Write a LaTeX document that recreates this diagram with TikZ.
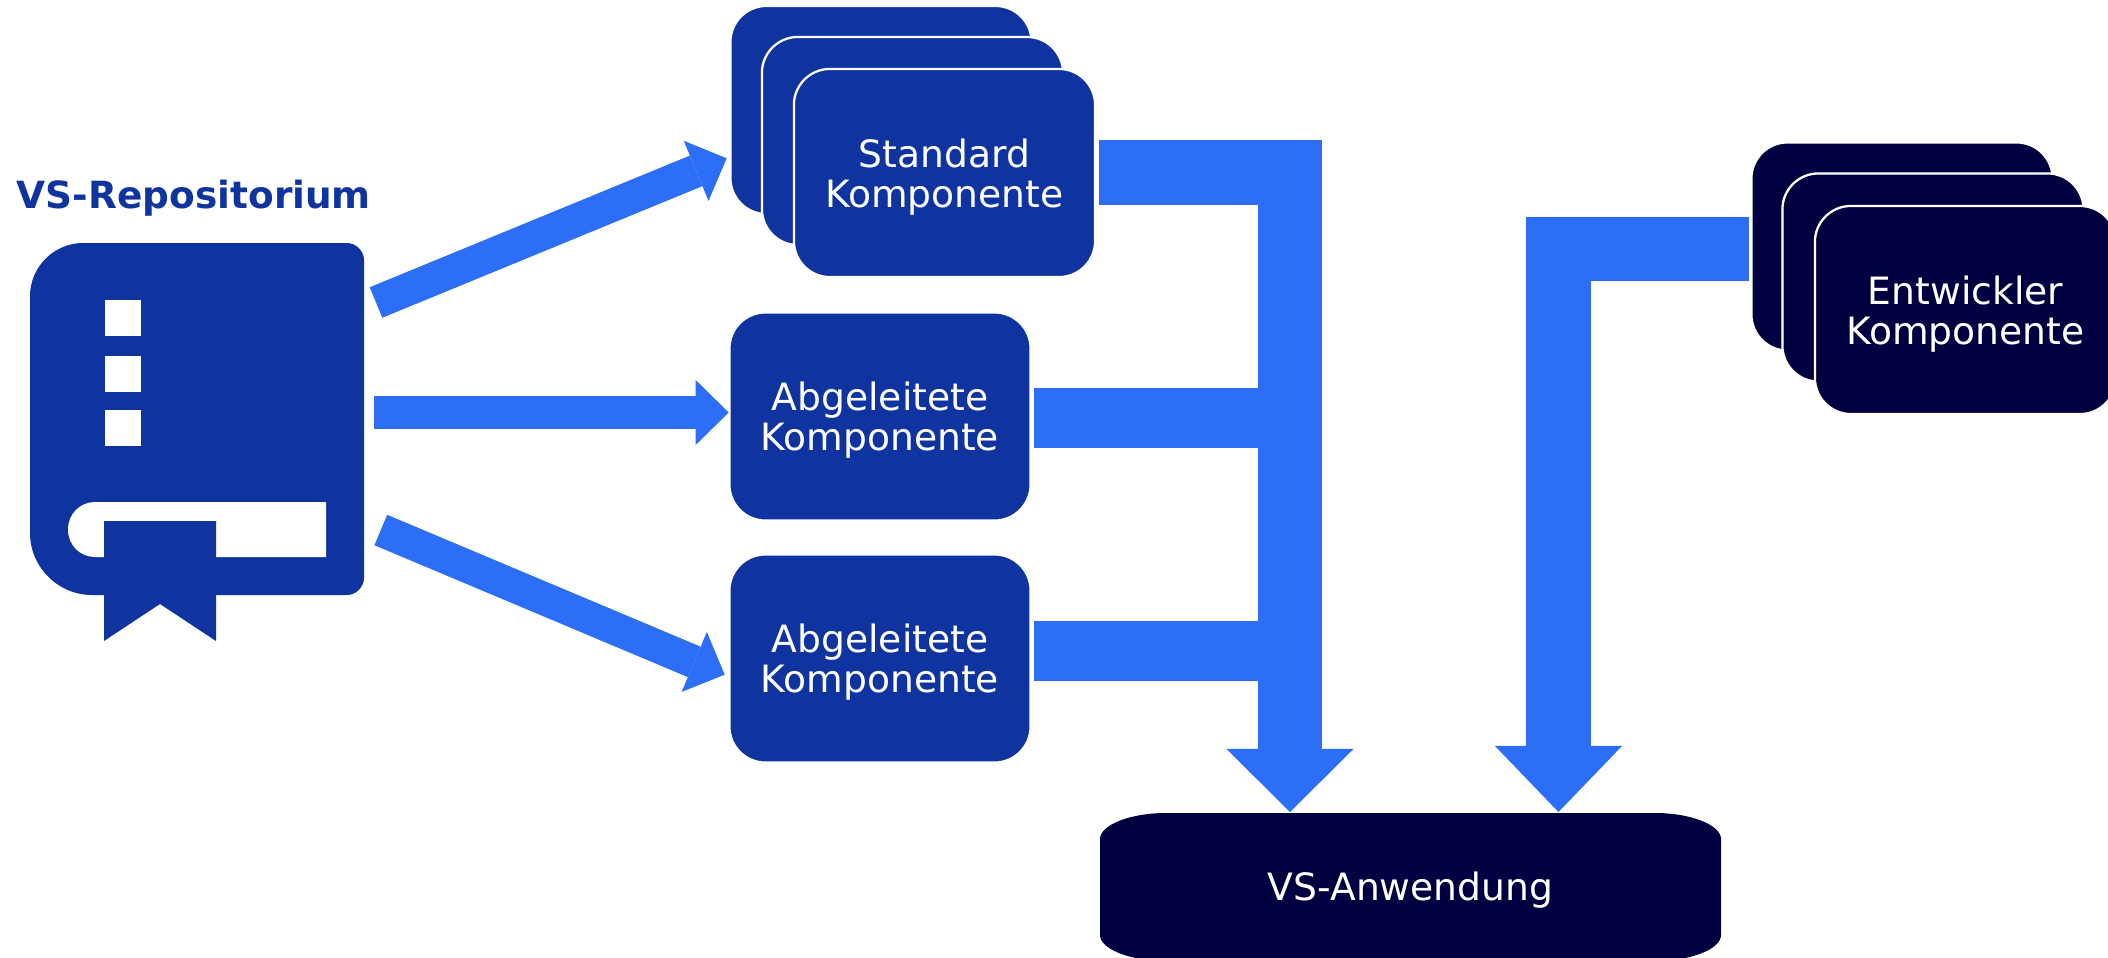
\documentclass[tikz,border=0pt]{standalone}
\usepackage{fontspec}
\setmainfont{DejaVu Sans}
\usetikzlibrary{arrows.meta,backgrounds}
\definecolor{repoblue}{HTML}{10349F}
\definecolor{flowblue}{HTML}{2C6FF6}
\definecolor{appnavy}{HTML}{000040}
\newcommand{\compname}[1]{\rule{0pt}{3.65mm}#1\\Komponente}
\tikzset{
    compbox/.style={fill=#1, draw=white, line width=0.65pt, rounded corners=0.36cm, minimum width=3.01cm,
        minimum height=2.08cm, text=white, align=center, outer sep=0pt, font=\fontsize{10.7}{11.4}\selectfont},
    thinflow/.style={draw=flowblue, line width=0.33cm, -{Triangle[length=0.33cm, width=0.65cm, line width=0pt]}},
    wideflow/.style={draw=flowblue, line width=0.64cm, -{Triangle[length=#1, width=1.27cm, line width=0pt]}},
    feedbar/.style={draw=flowblue, line width=0.6cm},
}
\begin{document}
\begin{tikzpicture}[x=0.01cm, y=-0.01cm]
    \useasboundingbox (0,0) rectangle (2108,957);

    % book
    \node[text=repoblue, font=\bfseries\fontsize{10.65}{12}\selectfont] (repo) at (194,198) {VS-Repositorium};
    \fill[repoblue] (83,243) .. controls (54,243) and (30,267) .. (30,296) -- (30,533)
        .. controls (30,567) and (58,595) .. (92,595) -- (347,595)
        .. controls (356,595) and (364,587) .. (364,578) -- (364,260)
        .. controls (364,251) and (356,243) .. (347,243) -- cycle;
    \foreach \y in {300,355.5,410} {
        \fill[white] (105,\y) rectangle (141,\y+36);
    }
    \fill[white] (326,502) -- (95,502) .. controls (80,502) and (68,514) .. (68,529.5)
        .. controls (68,545) and (80,557) .. (95,557) -- (326,557) -- cycle;
    \fill[repoblue] (104,521) -- (216,521) -- (216,641) -- (160,604) -- (104,641) -- cycle;

    % components
    \foreach \n/\x/\y in {A/881/110, B/912.5/141} {
        \node[compbox=repoblue] (std\n) at (\x,\y) {};
    }
    \node[compbox=repoblue] (stdC) at (944.5,173) {\compname{Standard}};
    \node[compbox=repoblue] (derivA) at (880,416.5) {\compname{Abgeleitete}};
    \node[compbox=repoblue] (derivB) at (880,658.5) {\compname{Abgeleitete}};
    \foreach \n/\x/\y in {A/1902/246.5, B/1933/277.5} {
        \node[compbox=appnavy] (dev\n) at (\x,\y) {};
    }
    \node[compbox=appnavy] (devC) at (1965.5,310) {\compname{Entwickler}};

    \node[text=white, minimum width=6.21cm, minimum height=1.48cm, outer sep=0pt,
        font=\fontsize{10.7}{11.4}\selectfont] (app) at (1410.5,890) {VS-Anwendung};
    \begin{scope}[on background layer]
        \fill[appnavy] (1100,839) .. controls (1100,825) and (1130,813) .. (1166,813) -- (1655,813)
            .. controls (1691,813) and (1721,825) .. (1721,839) -- (1721,935)
            .. controls (1721,949) and (1691,961) .. (1655,961) -- (1166,961)
            .. controls (1130,961) and (1100,949) .. (1100,935) -- cycle;
    \end{scope}

    % end points
    \coordinate (repoA) at (376,302.5);
    \coordinate (repoB) at (374,412.5);
    \coordinate (repoC) at (380.8,530);
    \coordinate (stdIn) at (726.7,158.3);
    \coordinate (derivAIn) at (728.7,412.5);
    \coordinate (derivBIn) at (724.7,674.7);
    \coordinate (stdOut) at (1099,172.5);
    \coordinate (stdBend) at (1290,172.5);
    \coordinate (appInA) at (1290,812);
    \coordinate (derivAOut) at (1034,418);
    \coordinate (derivBOut) at (1034,651);
    \coordinate (trunkA) at (1290,418);
    \coordinate (trunkB) at (1290,651);
    \coordinate (devOut) at (1749,249);
    \coordinate (devBend) at (1558.5,249);
    \coordinate (appInB) at (1558.5,812);

    \draw[thinflow] (repoA) -- (stdIn);
    \draw[thinflow] (repoB) -- (derivAIn);
    \draw[thinflow] (repoC) -- (derivBIn);
    \draw[feedbar] (derivAOut) -- (trunkA);
    \draw[feedbar] (derivBOut) -- (trunkB);
    \draw[wideflow=0.63cm] (stdOut) -- (stdBend) -- (appInA);
    \draw[wideflow=0.66cm] (devOut) -- (devBend) -- (appInB);
\end{tikzpicture}
\end{document}
